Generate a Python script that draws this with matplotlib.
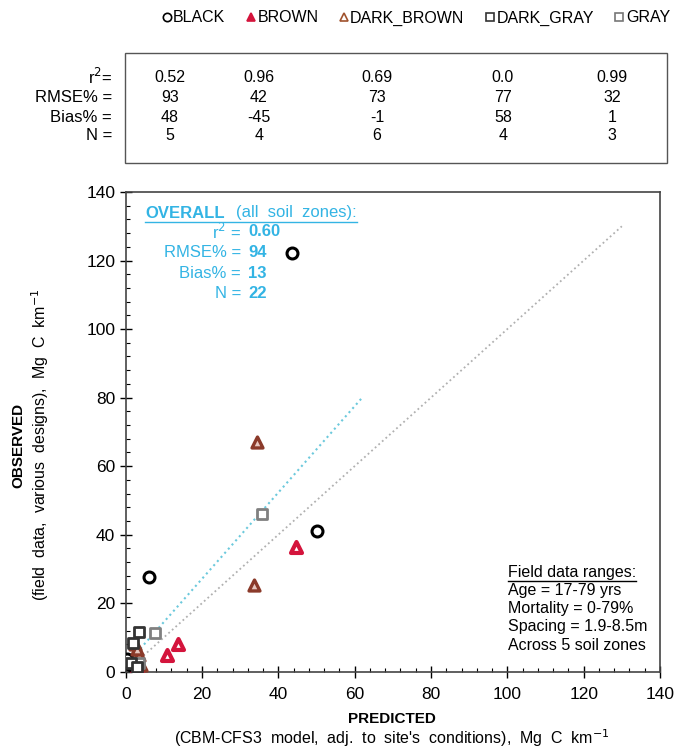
import matplotlib
matplotlib.use("Agg")
import matplotlib.pyplot as plt
from matplotlib.lines import Line2D
from matplotlib.patches import Rectangle

plt.rcParams['font.family'] = ['Liberation Sans', 'DejaVu Sans']

# observed vs predicted, Mg C km-1, per soil zone
black_x = [43.5, 50.0, 6.2, 0.3, 1.5]
black_y = [122.3, 41.2, 27.5, 3.6, 2.0]
brown_x = [44.5, 10.7, 13.7, 3.0]
brown_y = [36.3, 4.9, 8.0, 1.0]
dkbrown_x = [34.5, 33.5, 2.5, 3.5, 4.0, 3.0]
dkbrown_y = [67.0, 25.3, 8.0, 5.0, 2.0, 6.5]
dkgray_x = [3.5, 1.5, 3.0, 2.0]
dkgray_y = [11.7, 2.5, 1.5, 8.5]
gray_x = [35.8, 7.6, 3.5]
gray_y = [46.0, 11.2, 2.5]

zones = ['BLACK', 'BROWN', 'DARK_BROWN', 'DARK_GRAY', 'GRAY']
r2 = ['0.52', '0.96', '0.69', '0.0', '0.99']
rmse = ['93', '42', '73', '77', '32']
bias = ['48', '-45', '-1', '58', '1']
n = ['5', '4', '6', '4', '3']

# overall fit
fit_slope = 1.26
fit_icpt = 1.9
fit_xmax = 62
one2one_max = 130

cyan = '#33b4e4'
W, H = 679, 750

def px(x, y):
    return x / W, 1 - y / H

fig = plt.figure(figsize=(6.79, 7.5), dpi=100)
ax = fig.add_axes([125.7 / W, 1 - 671.7 / H, 534.3 / W, 479.7 / H])

ax.plot([0, one2one_max], [0, one2one_max], ls=':', color='#b0b0b0', lw=1.3, zorder=1)
ax.plot([0, fit_xmax], [fit_icpt, fit_icpt + fit_slope * fit_xmax], ls=':', color='#6cc9dc', lw=1.5, zorder=1)

ms = 62
ax.scatter(black_x, black_y, s=ms, marker='o', facecolors='white', edgecolors='black', linewidths=2.2, zorder=3)
ax.scatter(dkbrown_x, dkbrown_y, s=ms, marker='^', facecolors='#e8c8c0', edgecolors='#8b3a2a', linewidths=2.4, zorder=3)
ax.scatter(brown_x, brown_y, s=ms, marker='^', facecolors='white', edgecolors='#d4143c', linewidths=3.0, zorder=3)
ax.scatter(gray_x, gray_y, s=ms, marker='s', facecolors='white', edgecolors='#808080', linewidths=2.0, zorder=3)
ax.scatter(dkgray_x, dkgray_y, s=ms, marker='s', facecolors='white', edgecolors='#333333', linewidths=2.0, zorder=3)

ax.set_xlim(0, 140)
ax.set_ylim(0, 140)
ax.set_xticks(range(0, 141, 20))
ax.set_yticks(range(0, 141, 20))
ax.set_xticks(range(0, 141, 4), minor=True)
ax.set_yticks(range(0, 141, 4), minor=True)
ax.tick_params(which='major', direction='inout', length=8, width=1, labelsize=12.5)
ax.tick_params(axis='x', which='major', pad=7)
ax.tick_params(which='minor', direction='in', length=3, width=0.8)
for s in ax.spines.values():
    s.set_color('#444444')
    s.set_linewidth(1.2)

# axis titles
fig.text(*px(392, 719), 'PREDICTED', ha='center', va='center', fontsize=11, fontweight='bold')
fig.text(*px(392, 738), "(CBM-CFS3  model,  adj.  to  site's  conditions),  Mg  C  km$^{-1}$",
         ha='center', va='center', fontsize=11.5)
fig.text(*px(18, 445), 'OBSERVED', ha='center', va='center', fontsize=11, fontweight='bold', rotation=90)
fig.text(*px(40, 445), '(field  data,  various  designs),  Mg  C  km$^{-1}$',
         ha='center', va='center', fontsize=11.5, rotation=90)

# zone legend
handles = [
    Line2D([], [], ls='', marker='o', mfc='white', mec='black', mew=1.2, ms=6),
    Line2D([], [], ls='', marker='^', mfc='#d4143c', mec='#d4143c', mew=1.2, ms=6),
    Line2D([], [], ls='', marker='^', mfc='white', mec='#a0522d', mew=1.2, ms=6),
    Line2D([], [], ls='', marker='s', mfc='white', mec='#333333', mew=1.2, ms=6),
    Line2D([], [], ls='', marker='s', mfc='white', mec='#777777', mew=1.2, ms=6),
]
fig.legend(handles, zones, loc='center', bbox_to_anchor=px(416, 18), ncol=5, frameon=False,
           fontsize=11.5, handlelength=0.6, handletextpad=0.1, columnspacing=1.3)

# per-zone statistics table
fig.add_artist(Rectangle(px(125, 163), (667 - 125) / W, (163 - 53) / H,
                         transform=fig.transFigure, fill=False, edgecolor='#555555', lw=1))
row_y = [77, 97, 117, 136]
row_lab = ['r$^2$=', 'RMSE% =', 'Bias% =', 'N =']
col_x = [170, 259, 377, 503, 612]
for lab, yy in zip(row_lab, row_y):
    fig.text(*px(112, yy), lab, ha='right', va='center', fontsize=12)
for vals, yy in zip([r2, rmse, bias, n], row_y):
    for v, xx in zip(vals, col_x):
        fig.text(*px(xx, yy), v, ha='center', va='center', fontsize=11.5)

renderer = fig.canvas.get_renderer()

def underline(t0, t1, color):
    b0 = t0.get_window_extent(renderer)
    b1 = t1.get_window_extent(renderer)
    y = b0.y0 - 1
    fig.add_artist(Line2D([b0.x0 / W, b1.x1 / W], [y / H, y / H], color=color, lw=1,
                          transform=fig.transFigure))

# overall stats
t_a = fig.text(*px(145, 213), 'OVERALL', ha='left', va='center', fontsize=12,
               fontweight='bold', color=cyan)
t_b = fig.text(*px(236, 213), '(all  soil  zones):', ha='left', va='center', fontsize=12, color=cyan)
underline(t_a, t_b, cyan)
ov_lab = ['r$^2$ =', 'RMSE% =', 'Bias% =', 'N =']
ov_val = ['0.60', '94', '13', '22']
ov_y = [232, 253, 274, 294]
for lab, v, yy in zip(ov_lab, ov_val, ov_y):
    fig.text(*px(241, yy), lab, ha='right', va='center', fontsize=12, color=cyan)
    fig.text(*px(248, yy), v, ha='left', va='center', fontsize=12, color=cyan, fontweight='bold')

# field data ranges
t_f = fig.text(*px(508, 572), 'Field data ranges:', ha='left', va='center', fontsize=11.5)
underline(t_f, t_f, 'black')
ranges = ['Age = 17-79 yrs', 'Mortality = 0-79%', 'Spacing = 1.9-8.5m', 'Across 5 soil zones']
for i, line in enumerate(ranges):
    fig.text(*px(508, 591 + 18 * i), line, ha='left', va='center', fontsize=11.5)

fig.savefig('out.png', dpi=100)
